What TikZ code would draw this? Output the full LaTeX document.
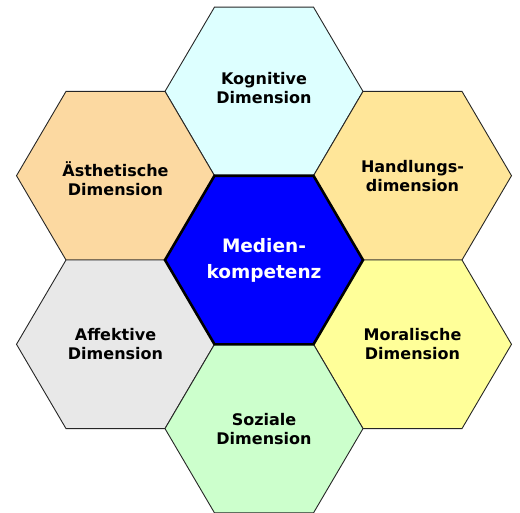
\documentclass[tikz,border=0pt]{standalone}
\usepackage{fontspec}
\setmainfont{DejaVu Sans}
\usetikzlibrary{calc}
\definecolor{hexcyan}{HTML}{DDFFFF}
\definecolor{hexpeach}{HTML}{FCD9A1}
\definecolor{hexgold}{HTML}{FFE699}
\definecolor{hexgray}{HTML}{E8E8E8}
\definecolor{hexyellow}{HTML}{FFFF99}
\definecolor{hexgreen}{HTML}{CCFFCC}
\definecolor{hexblue}{HTML}{0000FF}
\tikzset{
  hexline/.style={draw=black!85, line width=0.9pt},
  hexcentre/.style={draw=black, line width=2.6pt, line join=miter},
  outertext/.style={font=\bfseries\fontsize{16}{19}\selectfont, align=center, text=black},
  innertext/.style={font=\bfseries\fontsize{18.5}{26}\selectfont, align=center, text=white}
}
\newcommand\hexoutline[3]{% style, fill, centre coordinate
  \path[#1, fill=#2] ($(#3)+(-99,0)$) -- ++(49.5,-84.3) -- ++(99,0) -- ++(49.5,84.3)
    -- ++(-49.5,84.3) -- ++(-99,0) -- cycle;}
\begin{document}
\begin{tikzpicture}[x=1pt, y=-1pt]
\useasboundingbox (0,0) rectangle (520,512);
\coordinate (cT) at (264,91.4);
\coordinate (cUL) at (115.5,175.7);
\coordinate (cUR) at (412.5,175.7);
\coordinate (cLL) at (115.5,344.3);
\coordinate (cLR) at (412.5,344.3);
\coordinate (cB) at (264,428.6);
\coordinate (cC) at (264,260);
\hexoutline{hexline}{hexcyan}{cT}
\hexoutline{hexline}{hexpeach}{cUL}
\hexoutline{hexline}{hexgold}{cUR}
\hexoutline{hexline}{hexgray}{cLL}
\hexoutline{hexline}{hexyellow}{cLR}
\hexoutline{hexline}{hexgreen}{cB}
\hexoutline{hexcentre}{hexblue}{cC}
\node[outertext] (kog) at ($(cT)+(0,-3)$) {Kognitive\\Dimension};
\node[outertext] (aes) at ($(cUL)+(0,3)$) {Ästhetische\\Dimension};
\node[outertext] (han) at (cUR) {Handlungs-\\dimension};
\node[outertext] (aff) at (cLL) {Affektive\\Dimension};
\node[outertext] (mor) at (cLR) {Moralische\\Dimension};
\node[outertext] (soz) at (cB) {Soziale\\Dimension};
\node[innertext] (med) at (cC) {Medien-\\kompetenz};
\end{tikzpicture}
\end{document}
